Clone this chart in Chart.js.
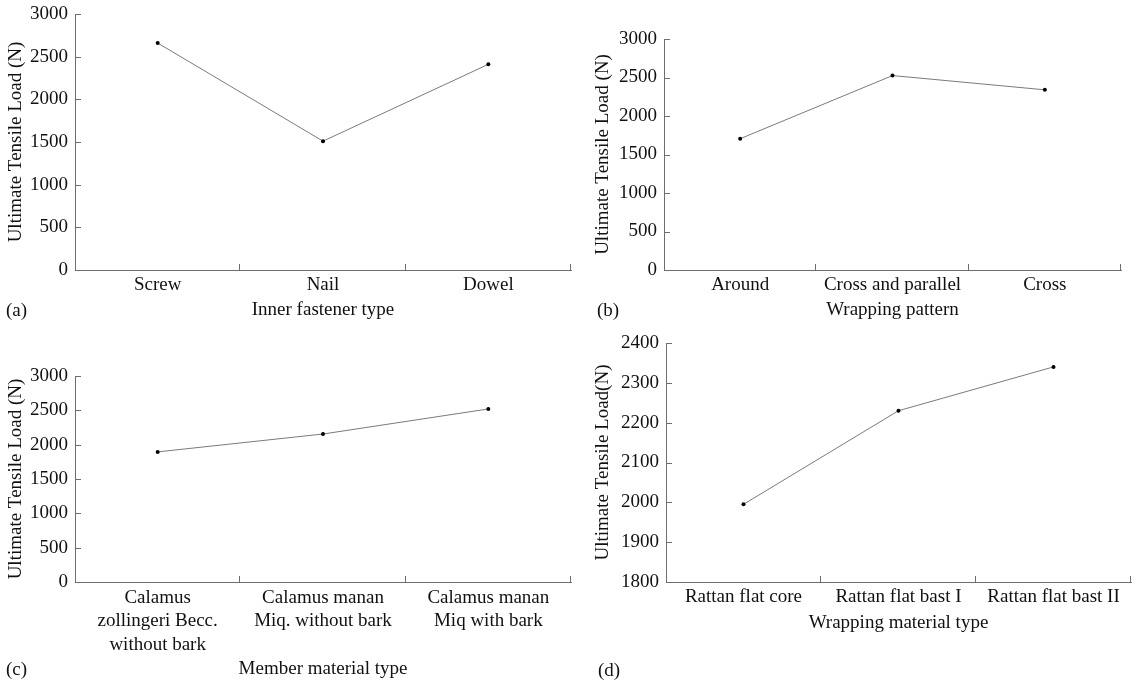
<!DOCTYPE html>
<html>
<head>
<meta charset="utf-8">
<script src="https://cdn.jsdelivr.net/npm/chart.js@4.4.0/dist/chart.umd.min.js"></script>
<style>
  html, body { margin: 0; padding: 0; background: #fff; }
  #wrap { position: relative; width: 1135px; height: 683px; overflow: hidden; }
  canvas { position: absolute; }
  .lbl { position: absolute; font-family: "Liberation Serif", "Times New Roman", serif; font-size: 19px; color: #111; line-height: 1; }
</style>
</head>
<body>
<div id="wrap">
  <canvas id="ca" width="575" height="330" style="left:0;top:0;width:575px;height:330px"></canvas>
  <canvas id="cb" width="560" height="330" style="left:575px;top:0;width:560px;height:330px"></canvas>
  <canvas id="cc" width="575" height="353" style="left:0;top:330px;width:575px;height:353px"></canvas>
  <canvas id="cd" width="560" height="353" style="left:575px;top:330px;width:560px;height:353px"></canvas>
  <div class="lbl" style="left:6px;top:300px">(a)</div>
  <div class="lbl" style="left:597px;top:300px">(b)</div>
  <div class="lbl" style="left:6px;top:659px">(c)</div>
  <div class="lbl" style="left:598px;top:660px">(d)</div>
</div>
<script>
// ---- data ----
const catsA = ['Screw', 'Nail', 'Dowel'];
const valsA = [2660, 1510, 2410];
const catsB = ['Around', 'Cross and parallel', 'Cross'];
const valsB = [1705, 2525, 2340];
const catsC = [['Calamus', 'zollingeri Becc.', 'without bark'], ['Calamus manan', 'Miq. without bark'], ['Calamus manan', 'Miq with bark']];
const valsC = [1895, 2155, 2520];
const catsD = ['Rattan flat core', 'Rattan flat bast I', 'Rattan flat bast II'];
const valsD = [1995, 2230, 2340];
const ticks0to3000 = [0, 500, 1000, 1500, 2000, 2500, 3000];
const ticks1800to2400 = [1800, 1900, 2000, 2100, 2200, 2300, 2400];
const titlesX = ['Inner fastener type', 'Wrapping pattern', 'Member material type', 'Wrapping material type'];
const titleY = 'Ultimate Tensile Load (N)';
const titleYd = 'Ultimate Tensile Load(N)';

const FONT = '"Liberation Serif", "Times New Roman", serif';
const TXT = '#111';
const AX = '#6e6e6e';

// draws short inward tick marks using the chart's own scales
const innerTicks = {
  id: 'innerTicks',
  afterDraw(chart) {
    const ctx = chart.ctx, a = chart.chartArea;
    const xs = chart.scales.x, ys = chart.scales.y;
    ctx.save();
    ctx.strokeStyle = AX;
    ctx.lineWidth = 1;
    ctx.beginPath();
    ys.ticks.forEach(t => {
      const y = Math.round(ys.getPixelForValue(t.value)) + 0.5;
      ctx.moveTo(a.left, y); ctx.lineTo(a.left + 6, y);
    });
    const n = xs.getLabels().length;
    for (let i = 0; i < n; i++) {
      const x = Math.round(xs.getPixelForValue(i + 0.5)) - 0.5;
      ctx.moveTo(x, a.bottom); ctx.lineTo(x, a.bottom - 6);
    }
    ctx.stroke();
    ctx.restore();
  }
};

function make(id, cats, vals, yTicks, cfg) {
  new Chart(document.getElementById(id), {
    type: 'line',
    data: {
      labels: cats,
      datasets: [{
        data: vals,
        borderColor: '#7a7a7a',
        borderWidth: 1,
        pointRadius: 2,
        pointBackgroundColor: '#000',
        pointBorderColor: '#000',
        pointBorderWidth: 0,
        tension: 0,
        fill: false
      }]
    },
    options: {
      responsive: false,
      animation: false,
      devicePixelRatio: 1,
      layout: { padding: { top: cfg.padTop, left: cfg.padLeft, right: cfg.padRight, bottom: 0 } },
      plugins: { legend: { display: false }, tooltip: { enabled: false } },
      scales: {
        x: {
          type: 'category',
          offset: true,
          grid: { display: false, drawTicks: false },
          border: { display: true, color: AX, width: 1 },
          ticks: {
            color: TXT, padding: 4, maxRotation: 0, minRotation: 0, autoSkip: false,
            font: { family: FONT, size: 19, lineHeight: cfg.tickLH || 1.2 }
          },
          title: {
            display: true, text: cfg.xTitle, color: TXT,
            font: { family: FONT, size: 19, lineHeight: 1.2 },
            padding: { top: 0, bottom: cfg.xTitlePadB }
          },
          afterFit(s) { s.height = cfg.xHeight; s.paddingLeft = 0; s.paddingRight = 0; }
        },
        y: {
          min: yTicks[0],
          max: yTicks[yTicks.length - 1],
          grid: { display: false, drawTicks: false },
          border: { display: true, color: AX, width: 1 },
          ticks: { color: TXT, padding: 7, font: { family: FONT, size: 19 }, callback: v => String(v) },
          afterBuildTicks(s) { s.ticks = yTicks.map(v => ({ value: v })); },
          title: {
            display: true, text: cfg.yTitle, color: TXT,
            font: { family: FONT, size: 19, lineHeight: 1.2 },
            padding: { top: 5, bottom: 0 }
          },
          afterFit(s) { s.width = cfg.yWidth; s.paddingTop = 0; s.paddingBottom = 0; }
        }
      }
    },
    plugins: [innerTicks]
  });
}

make('ca', catsA, valsA, ticks0to3000, { padTop: 14, padLeft: 0, padRight: 2, yWidth: 75, xHeight: 60, xTitlePadB: 9, xTitle: titlesX[0], yTitle: titleY });
make('cb', catsB, valsB, ticks0to3000, { padTop: 39, padLeft: 12, padRight: 14, yWidth: 77, xHeight: 60, xTitlePadB: 9, xTitle: titlesX[1], yTitle: titleY });
make('cc', catsC, valsC, ticks0to3000, { padTop: 46, padLeft: 0, padRight: 2, yWidth: 75, xHeight: 101, xTitlePadB: 3, tickLH: 1.24, xTitle: titlesX[2], yTitle: titleY });
make('cd', catsD, valsD, ticks1800to2400, { padTop: 13, padLeft: 12, padRight: 2, yWidth: 79, xHeight: 101, xTitlePadB: 49, xTitle: titlesX[3], yTitle: titleYd });
</script>
</body>
</html>
